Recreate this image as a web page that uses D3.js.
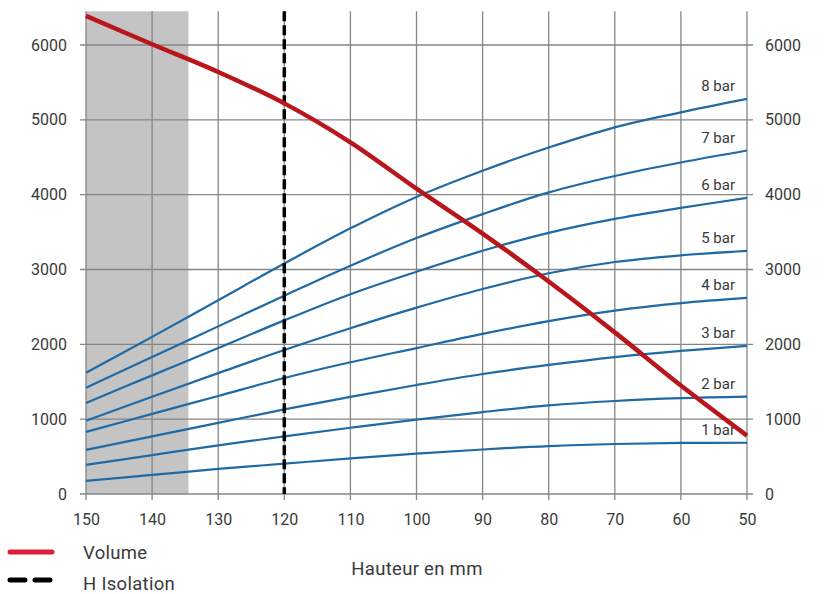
<!DOCTYPE html>
<html>
<head>
<meta charset="utf-8">
<script src="https://cdn.jsdelivr.net/npm/d3@7"></script>
<style>
  body { margin: 0; background: #fff; }
  text { font-family: Roboto, "Liberation Sans", sans-serif; }
</style>
</head>
<body>
<div id="chart"></div>
<script>
// data
const heights = [150, 140, 130, 120, 110, 100, 90, 80, 70, 60, 50];
const volume  = [6390, 6010, 5640, 5220, 4700, 4080, 3480, 2840, 2160, 1450, 780];
const bar1 = [175, 255, 335, 405, 475, 540, 595, 640, 668, 682, 685];
const bar2 = [390, 520, 650, 770, 885, 995, 1095, 1185, 1243, 1280, 1300];
const bar3 = [590, 770, 950, 1130, 1297, 1457, 1604, 1725, 1830, 1912, 1979];
const bar4 = [830, 1070, 1310, 1550, 1760, 1950, 2140, 2310, 2450, 2550, 2620];
const bar5 = [980, 1300, 1615, 1925, 2215, 2490, 2740, 2950, 3100, 3190, 3250];
const bar6 = [1217, 1585, 1950, 2320, 2670, 2970, 3250, 3490, 3676, 3823, 3957];
const bar7 = [1420, 1830, 2240, 2650, 3050, 3420, 3740, 4030, 4250, 4430, 4590];
const bar8 = [1620, 2100, 2590, 3080, 3550, 3970, 4320, 4630, 4900, 5100, 5280];
const barSeries = [bar1, bar2, bar3, bar4, bar5, bar6, bar7, bar8];
const barLabels = ["1 bar", "2 bar", "3 bar", "4 bar", "5 bar", "6 bar", "7 bar", "8 bar"];
const yTicks = [0, 1000, 2000, 3000, 4000, 5000, 6000];
const xTicks = [150, 140, 130, 120, 110, 100, 90, 80, 70, 60, 50];
const shadeRange = [150, 134.5];   // grey zone
const isolationHeight = 120;       // dashed line
const yMax = 6450;                 // top of the grid

const width = 826, height = 594;
const margin = {left: 86, right: 79, top: 45, bottom: 100};

const svg = d3.select("#chart")
  .append("svg")
  .attr("width", width)
  .attr("height", height);

// scales
const x = d3.scaleLinear().domain([150, 50]).range([margin.left, width - margin.right]);
const y = d3.scaleLinear().domain([0, 6000]).range([height - margin.bottom, margin.top]);

const gridColor = "#868686";
const textColor = "#3a3a3a";

// grey zone
svg.append("rect")
  .attr("x", x(shadeRange[0]))
  .attr("y", y(yMax))
  .attr("width", x(shadeRange[1]) - x(shadeRange[0]))
  .attr("height", y(0) - y(yMax))
  .attr("fill", "#c4c4c4");

// vertical grid
svg.append("g")
  .selectAll("line")
  .data(xTicks)
  .join("line")
    .attr("x1", d => x(d))
    .attr("x2", d => x(d))
    .attr("y1", y(yMax))
    .attr("y2", y(0) + 6)
    .attr("stroke", gridColor)
    .attr("stroke-width", 1.3);

// horizontal grid
svg.append("g")
  .selectAll("line")
  .data(yTicks)
  .join("line")
    .attr("x1", x(150) - 6)
    .attr("x2", x(50) + 6)
    .attr("y1", d => y(d))
    .attr("y2", d => y(d))
    .attr("stroke", gridColor)
    .attr("stroke-width", 1.3);

// axes labels
const axisLeft = svg.append("g")
  .attr("transform", `translate(${x(150)},0)`)
  .call(d3.axisLeft(y).tickValues(yTicks).tickSize(0).tickPadding(19).tickFormat(d3.format("d")));
const axisRight = svg.append("g")
  .attr("transform", `translate(${x(50)},0)`)
  .call(d3.axisRight(y).tickValues(yTicks).tickSize(0).tickPadding(18).tickFormat(d3.format("d")));
const axisBottom = svg.append("g")
  .attr("transform", `translate(0,${y(0)})`)
  .call(d3.axisBottom(x).tickValues(xTicks).tickSize(0).tickPadding(20).tickFormat(d3.format("d")));

[axisLeft, axisRight, axisBottom].forEach(a => {
  a.select(".domain").remove();
  a.selectAll("text")
    .style("font-size", "16px")
    .style("font-family", "Roboto, sans-serif")
    .attr("fill", textColor);
});

const line = d3.line()
  .x((d, i) => x(heights[i]))
  .y(d => y(d))
  .curve(d3.curveCatmullRom.alpha(0.5));

// pressure curves
svg.append("g")
  .selectAll("path")
  .data(barSeries)
  .join("path")
    .attr("d", d => line(d))
    .attr("fill", "none")
    .attr("stroke", "#1f6aa5")
    .attr("stroke-width", 2.2);

// curve labels
svg.append("g")
  .selectAll("text")
  .data(barSeries)
  .join("text")
    .attr("x", x(50) - 12)
    .attr("y", d => y(d[d.length - 1]) - 8)
    .attr("text-anchor", "end")
    .style("font-size", "15px")
    .attr("fill", textColor)
    .text((d, i) => barLabels[i]);

// isolation line
svg.append("line")
  .attr("x1", x(isolationHeight))
  .attr("x2", x(isolationHeight))
  .attr("y1", y(yMax))
  .attr("y2", y(0))
  .attr("stroke", "#000")
  .attr("stroke-width", 3.5)
  .attr("stroke-dasharray", "10,4");

// volume curve
svg.append("path")
  .attr("d", line(volume))
  .attr("fill", "none")
  .attr("stroke", "#b8161c")
  .attr("stroke-width", 4.5);

// x axis title
svg.append("text")
  .attr("x", 417)
  .attr("y", 575)
  .attr("text-anchor", "middle")
  .style("font-size", "18.5px")
  .style("letter-spacing", "0.3px")
  .attr("fill", textColor)
  .text("Hauteur en mm");

// legend
const legend = svg.append("g");
legend.append("line")
  .attr("x1", 10).attr("x2", 52)
  .attr("y1", 552).attr("y2", 552)
  .attr("stroke", "#dc1f36")
  .attr("stroke-width", 5)
  .attr("stroke-linecap", "round");
legend.append("line")
  .attr("x1", 10).attr("x2", 54)
  .attr("y1", 580).attr("y2", 580)
  .attr("stroke", "#000")
  .attr("stroke-width", 5)
  .attr("stroke-linecap", "round")
  .attr("stroke-dasharray", "15,10");
legend.append("text")
  .attr("x", 83).attr("y", 559)
  .style("font-size", "18.5px")
  .style("letter-spacing", "0.3px")
  .attr("fill", textColor)
  .text("Volume");
legend.append("text")
  .attr("x", 83).attr("y", 590)
  .style("font-size", "18.5px")
  .style("letter-spacing", "0.3px")
  .attr("fill", textColor)
  .text("H Isolation");
</script>
</body>
</html>
